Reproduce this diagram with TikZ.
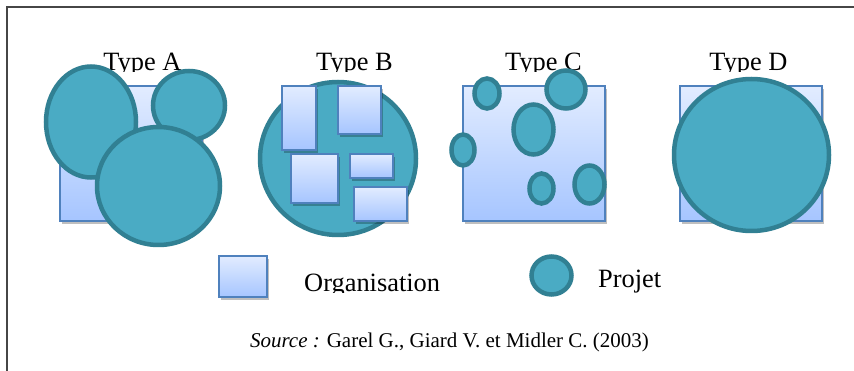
\documentclass[tikz,border=0pt]{standalone}
\usepackage{fontspec}
\setmainfont{Liberation Serif}
\usetikzlibrary{shadows}
\definecolor{orgtop}{RGB}{226,236,255}
\definecolor{orgbot}{RGB}{166,197,255}
\definecolor{orgline}{RGB}{79,129,189}
\definecolor{projfill}{RGB}{74,171,196}
\definecolor{projline}{RGB}{49,128,147}
\definecolor{framec}{RGB}{70,70,70}
\tikzset{
  org/.style={draw=orgline, line width=1.5pt, top color=orgtop, bottom color=orgbot,
    drop shadow={shadow xshift=2pt, shadow yshift=-3pt, opacity=0.25, fill=black}},
  proj/.style={draw=projline, fill=projfill, line width=4.5pt},
  lbl/.style={font=\fontsize{26.4}{30}\selectfont, anchor=base, inner sep=0pt},
}
\begin{document}
\begin{tikzpicture}[x=1pt,y=-1pt]
\clip (0,0) rectangle (854,371);
\useasboundingbox (0,0) rectangle (854,371);
\fill[white] (0,0) rectangle (854,371);
\draw[framec, line width=1.8pt] (7,380) -- (7,7) -- (870,7);

% labels (clipped at the text box bottom)
\begin{scope}
\clip (0,30) rectangle (854,72);
\node[lbl] (la) at (142.5,71) {Type A};
\node[lbl] (lb) at (354.5,71) {Type B};
\node[lbl] (lc) at (543.5,71) {Type C};
\node[lbl] (ld) at (748.5,71) {Type D};
\end{scope}

% Type A
\path[org] (60,86) rectangle (202,221);
\path[proj] (91,122) ellipse [x radius=45, y radius=55.5];
\path[proj] (189,105.5) ellipse [x radius=36, y radius=34.5];
\path[proj] (158.5,186) ellipse [x radius=61.5, y radius=59];

% Type B
\path[proj] (338,158.5) ellipse [x radius=78, y radius=76.5];
\path[org] (282,86) rectangle (316,150);
\path[org] (338,86) rectangle (381,134);
\path[org] (291,154) rectangle (338,203);
\path[org] (350,154) rectangle (393,178);
\path[org] (354,187) rectangle (407,221);

% Type C
\path[org] (463,86) rectangle (605,221);
\path[proj] (487,93.5) ellipse [x radius=12.5, y radius=15];
\path[proj] (566,89.5) ellipse [x radius=19.5, y radius=19];
\path[proj] (533.5,129.5) ellipse [x radius=20, y radius=25];
\path[proj] (463,150) ellipse [x radius=11.5, y radius=15.5];
\path[proj] (541.5,188.5) ellipse [x radius=12, y radius=15];
\path[proj] (589.5,184.5) ellipse [x radius=15, y radius=19];

% Type D
\path[org] (680,86) rectangle (822,221);
\path[proj] (751.5,155) ellipse [x radius=77.5, y radius=76];

% Legend
\path[org] (219,256) rectangle (267,297);
\path[proj] (551.5,275.5) ellipse [x radius=20, y radius=19];
\begin{scope}
\clip (280,250) rectangle (700,293);
\node[lbl, anchor=base west] (lorg) at (304,292) {Organisation};
\node[lbl, anchor=base west] (lproj) at (598,288) {Projet};
\end{scope}

\node[font=\fontsize{21}{24}\selectfont, anchor=base, inner sep=0pt] (src) at (449.5,347)
  {\textit{Source :} Garel G., Giard V. et Midler C. (2003)};
\end{tikzpicture}
\end{document}
